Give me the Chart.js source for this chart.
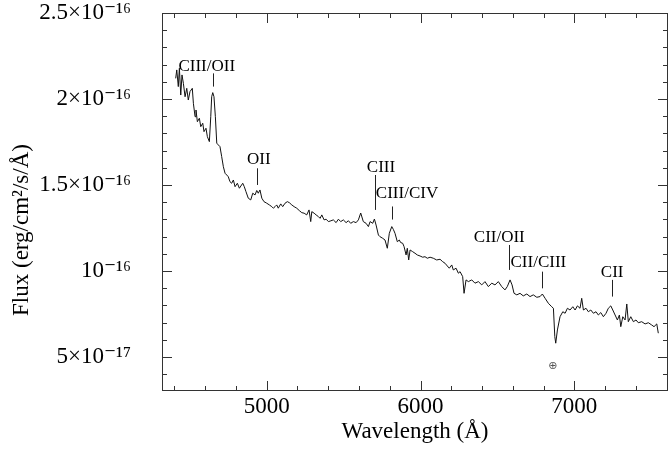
<!DOCTYPE html>
<html><head><meta charset="utf-8">
<script src="https://cdn.jsdelivr.net/npm/chart.js@4.4.1/dist/chart.umd.min.js"></script>
<style>html,body{margin:0;padding:0;background:#fff;}#wrap{width:670px;height:459px;}</style>
</head><body><div id="wrap"><canvas id="c" width="670" height="459"></canvas></div>
<script>
// Wavelength (Å)
const wavelength = [
4408,4415,4425,4432,4441,4449,4458,4469,4480,4490,4501,4516,4523,4534,4540,4549,4562,4571,4584,4592,4605,4614,4627,4636,4642,4649,4657,4666,4675,4685,4696,4707,4718,4729,4740,4750,4761,4772,4783,4794,4809,4822,
4844,4854,4865,4880,4896,4909,4924,4935,4945,4956,4968,4982,5000,5017,5033,5043,5054,5065,5075,5091,5104,5119,5134,5147,5163,5178,5195,5212,5228,5243,5260,5275,5286,5293,5308,5321,5336,5347,5358,5373,5386,5401,
5412,5433,5451,5466,5481,5498,5516,5531,5546,5563,5581,5596,5611,5628,5646,5661,5672,5689,5700,5711,5726,5737,5754,5769,5784,5797,5813,5823,5834,5849,5862,5871,5884,5893,5906,5914,5923,5932,5949,5964,5979,5997,6014,6029,6044,6062,
6083,6105,6127,6144,6159,6174,6187,6203,6213,6231,6246,6257,6274,6283,6296,6311,6333,6354,6376,6398,6419,6441,6463,6484,6506,6528,6549,6564,6582,6595,6608,6626,6647,6668,6691,6712,6733,6756,6777,6792,6810,6831,6853,6864,6873,6879,6890,6907,6925,6940,6955,6972,6990,7005,7020,7037,7048,7059,7076,7091,7107,7124,7141,7156,7172,7189,7206,7221,7237,7250,7265,7280,7293,7302,7315,7330,7341,7351,7367,7384,7401,7416,7438,7460,7481,7503,7518,7536,7546
];
// Flux in units of 1e-17 erg/cm2/s/Å
const fluxE17 = [
21.20,21.69,20.72,21.79,20.23,21.40,20.91,20.13,20.62,19.94,20.43,20.62,19.75,18.97,19.36,18.68,18.88,18.39,18.59,18.10,18.30,17.81,17.52,18.97,20.13,20.37,20.13,18.97,17.43,17.33,17.23,16.65,16.06,15.68,15.58,15.48,15.19,15.10,15.29,14.90,15.10,14.81,
15.10,14.90,14.61,14.23,14.13,14.52,14.42,14.68,14.52,14.71,14.23,14.03,13.94,13.84,13.74,13.65,13.74,13.84,13.65,13.90,13.74,13.94,14.03,13.97,13.84,13.74,13.65,13.51,13.39,13.36,13.26,13.55,12.87,13.45,13.36,13.26,13.16,13.06,13.26,12.97,13.01,12.87,
12.90,12.97,12.81,13.01,12.87,12.97,12.81,12.92,12.77,12.87,12.81,12.97,13.37,12.87,12.77,12.58,12.87,12.77,13.02,12.67,12.09,11.99,11.90,11.80,11.32,12.19,12.58,12.42,12.19,11.70,11.80,11.65,11.61,11.41,10.93,11.32,10.64,11.22,11.12,11.03,10.93,10.87,10.80,10.83,10.74,10.80,
10.74,10.64,10.68,10.54,10.45,10.29,10.16,10.35,10.06,10.16,9.87,9.96,9.67,8.70,9.48,9.38,9.48,9.29,9.38,9.19,9.38,9.09,9.29,9.19,9.38,9.09,8.90,9.09,9.48,9.19,8.70,8.61,8.70,8.55,8.66,8.51,8.61,8.47,8.51,8.66,8.41,8.12,7.92,7.83,6.18,5.80,6.57,7.34,7.63,7.54,7.83,7.73,7.92,7.73,7.97,7.83,8.41,7.73,7.83,7.63,7.73,7.54,7.63,7.44,7.58,7.34,7.54,7.83,7.97,7.73,7.44,7.15,7.44,6.76,7.34,7.15,8.08,7.05,7.34,7.05,7.15,6.99,7.05,6.92,6.99,6.86,6.76,6.92,6.38
];

const xTickValues = [5000, 6000, 7000];
const xTickLabels = ['5000', '6000', '7000'];
const yTickValues = [5, 10, 15, 20, 25];
const yTickLabels = ['5×10⁻¹⁷', '10⁻¹⁶', '1.5×10⁻¹⁶', '2×10⁻¹⁶', '2.5×10⁻¹⁶'];
const xMinorTicks = [4400,4600,4800,5000,5200,5400,5600,5800,6000,6200,6400,6600,6800,7000,7200,7400,7600];
const yMinorTicks = [4,5,6,7,8,9,10,11,12,13,14,15,16,17,18,19,20,21,22,23,24,25];

// Line identifications
const lineNames    = ['CIII/OII', 'OII', 'CIII', 'CIII/CIV', 'CII/OII', 'CII/CIII', 'CII'];
const lineWave     = [4653, 4939, 5704, 5815, 6577, 6792, 7247];
const lineTickTop  = [21.49, 15.97, 15.58, 13.75, 11.51, 9.96, 9.48];
const lineTickBot  = [20.72, 15.00, 13.55, 12.99, 10.06, 8.99, 8.51];
const labelWave    = [4610, 4948, 5743, 5912, 6512, 6766, 7246];
const labelFlux    = [21.65, 16.20, 15.77, 14.24, 11.70, 10.22, 9.67];
const telluricWave = 6860, telluricFlux = 4.48;

const SERIF = '"Liberation Serif", "Times New Roman", "DejaVu Serif", serif';

const framePlugin = {
  id: 'frame',
  afterDatasetsDraw(chart) {
    const {ctx, scales: {x, y}} = chart;
    ctx.save();
    ctx.strokeStyle = '#222'; ctx.lineWidth = 1;
    ctx.fillStyle = '#000';
    ctx.font = '17px ' + SERIF;
    ctx.textAlign = 'center'; ctx.textBaseline = 'alphabetic';
    for (let i = 0; i < lineNames.length; i++) {
      const px = Math.round(x.getPixelForValue(lineWave[i])) + 0.5;
      ctx.beginPath();
      ctx.moveTo(px, y.getPixelForValue(lineTickTop[i]));
      ctx.lineTo(px, y.getPixelForValue(lineTickBot[i]));
      ctx.stroke();
      ctx.fillText(lineNames[i], x.getPixelForValue(labelWave[i]), y.getPixelForValue(labelFlux[i]));
    }
    ctx.fillStyle = '#555';
    ctx.font = '11px "DejaVu Sans", sans-serif';
    ctx.textBaseline = 'middle';
    ctx.fillText('⊕', x.getPixelForValue(telluricWave), y.getPixelForValue(telluricFlux));
    ctx.restore();
  },
  afterDraw(chart) {
    const {ctx, chartArea: a, scales: {x, y}} = chart;
    ctx.save();
    ctx.strokeStyle = '#333'; ctx.lineWidth = 1;
    ctx.strokeRect(Math.round(a.left) + 0.5, Math.round(a.top) + 0.5, Math.round(a.right - a.left) - 1, Math.round(a.bottom - a.top) - 1);
    ctx.beginPath();
    xMinorTicks.forEach(v => {
      const px = Math.round(x.getPixelForValue(v)) + 0.5;
      const L = xTickValues.includes(v) ? 10 : 5;
      ctx.moveTo(px, a.bottom); ctx.lineTo(px, a.bottom - L);
      ctx.moveTo(px, a.top); ctx.lineTo(px, a.top + L);
    });
    yMinorTicks.forEach(v => {
      const py = Math.round(y.getPixelForValue(v)) + 0.5;
      const L = yTickValues.includes(v) ? 10 : 5;
      ctx.moveTo(a.left, py); ctx.lineTo(a.left + L, py);
      ctx.moveTo(a.right, py); ctx.lineTo(a.right - L, py);
    });
    ctx.stroke();
    ctx.translate(22, 230);
    ctx.rotate(-Math.PI / 2);
    ctx.fillStyle = '#000';
    ctx.font = '23px ' + SERIF;
    ctx.textAlign = 'center'; ctx.textBaseline = 'middle';
    ctx.fillText('Flux (erg/cm²/s/Å)', 0, 0);
    ctx.restore();
  }
};

new Chart(document.getElementById('c'), {
  type: 'scatter',
  data: {
    datasets: [{
      data: wavelength.map((w, i) => ({x: w, y: fluxE17[i]})),
      showLine: true,
      borderColor: '#111',
      borderWidth: 1,
      pointRadius: 0,
      tension: 0
    }]
  },
  options: {
    responsive: false,
    animation: false,
    events: [],
    layout: {padding: {top: 13, right: 2, left: 0, bottom: 0}},
    plugins: {legend: {display: false}, tooltip: {enabled: false}},
    scales: {
      x: {
        type: 'linear', min: 4319, max: 7609,
        grid: {display: false}, border: {display: false},
        afterBuildTicks: s => { s.ticks = xTickValues.map(v => ({value: v})); },
        afterFit: s => { s.height = 68; s.paddingLeft = 0; s.paddingRight = 0; },
        ticks: {
          padding: -6, color: '#000', maxRotation: 0,
          font: {family: SERIF, size: 23},
          callback: v => xTickLabels[xTickValues.indexOf(v)]
        },
        title: {
          display: true, text: 'Wavelength (Å)', color: '#000',
          font: {family: SERIF, size: 23, lineHeight: 1.2},
          padding: {top: 0, bottom: 13}
        }
      },
      y: {
        type: 'linear', min: 3.02, max: 25,
        grid: {display: false}, border: {display: false},
        afterBuildTicks: s => { s.ticks = yTickValues.map(v => ({value: v})); },
        afterFit: s => { s.width = 162; s.paddingTop = 0; s.paddingBottom = 0; },
        ticks: {
          padding: 23, color: '#000',
          font: {family: SERIF, size: 23},
          callback: v => yTickLabels[yTickValues.indexOf(v)]
        }
      }
    }
  },
  plugins: [framePlugin]
});
</script></body></html>
